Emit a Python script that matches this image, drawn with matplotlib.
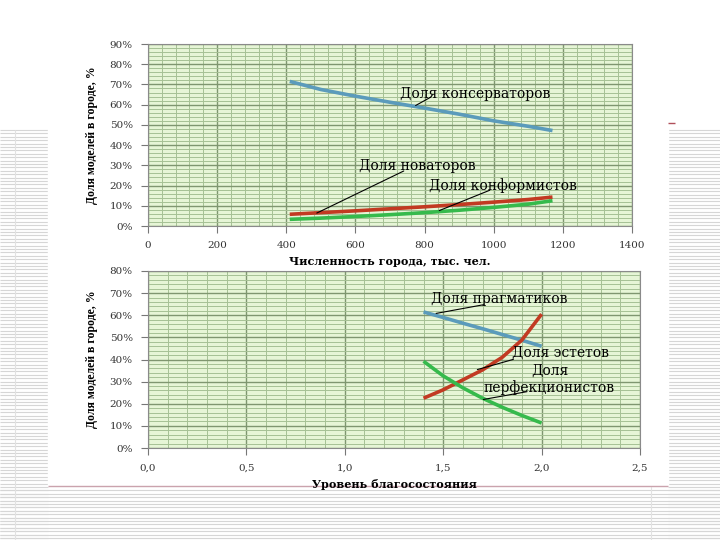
import numpy as np
import matplotlib
matplotlib.use("Agg")
import matplotlib.pyplot as plt
from matplotlib.ticker import MultipleLocator, FuncFormatter

# top chart: city size (thousand people) vs share of models
pop = [410, 500, 600, 700, 800, 900, 1000, 1100, 1170]
conserv = [71.5, 67.5, 64.2, 61.2, 58.3, 55.3, 52.0, 49.3, 47.2]
novat = [5.8, 6.6, 7.5, 8.5, 9.5, 10.6, 11.8, 13.1, 14.3]
conform = [3.3, 3.9, 4.7, 5.6, 6.6, 7.8, 9.2, 10.8, 12.5]

# bottom chart: welfare level vs share of models
wealth = [1.4, 1.5, 1.6, 1.7, 1.8, 1.9, 2.0]
pragm = [61.5, 59.0, 56.4, 53.9, 51.3, 48.7, 46.0]
estet = [22.5, 26.3, 30.8, 35.3, 41.0, 48.8, 60.5]
perf = [39.2, 32.6, 27.2, 22.5, 18.4, 14.7, 11.3]

c_blue = "#5b9bbb"
c_red = "#c23a22"
c_green = "#36ba4c"
bg = "#e6f5d6"
serif = "DejaVu Serif"

fig = plt.figure(figsize=(7.2, 5.4), dpi=100)

# slide background decoration (grey stripes around the pasted picture)
deco = fig.add_axes([0, 0, 1, 1], zorder=-5)
deco.set_xlim(0, 720)
deco.set_ylim(540, 0)
deco.axis("off")
ys = np.arange(130, 540, 3.4)
deco.hlines(ys, 0, 48, color="#d6d6d6", lw=0.8)
deco.hlines(ys, 668, 720, color="#d6d6d6", lw=0.8)
deco.hlines(ys[ys > 489], 0, 720, color="#d6d6d6", lw=0.8)
deco.vlines([15, 651], 130, 540, color="#e2e2e2", lw=0.8)
deco.fill_between([48, 668], 0, 486, color="white", zorder=2)
deco.hlines(486, 48, 668, color="#caa3ad", lw=1.0, zorder=3)
deco.hlines(123, 668, 675, color="#b0505a", lw=1.0, zorder=3)


def style(ax):
    ax.set_facecolor(bg)
    ax.grid(which="major", color="#7f9670", lw=1.0)
    ax.grid(which="minor", color="#a6c194", lw=0.7)
    ax.set_axisbelow(True)
    for s in ax.spines.values():
        s.set_color("#8a8a8a")
    ax.tick_params(which="major", length=5, color="#777777", labelcolor="#333333",
                   labelsize=7.5, pad=6)
    ax.tick_params(which="minor", length=0)
    for lab in ax.get_xticklabels() + ax.get_yticklabels():
        lab.set_family(serif)
    ax.yaxis.set_major_formatter(FuncFormatter(lambda v, p: "%d%%" % round(v)))


def leader(ax, p0, p1):
    ax.annotate("", xy=p1, xytext=p0,
                arrowprops=dict(arrowstyle="-", color="black", lw=0.8))


# ---- top chart
ax1 = fig.add_axes([148 / 720, 1 - 226 / 540, 484 / 720, 182 / 540])
ax1.plot(pop, conserv, color=c_blue, lw=2.6, solid_capstyle="butt")
ax1.plot(pop, novat, color=c_red, lw=2.6, solid_capstyle="butt")
ax1.plot(pop, conform, color=c_green, lw=2.6, solid_capstyle="butt")
ax1.set_xlim(0, 1400)
ax1.set_ylim(0, 90)
ax1.xaxis.set_major_locator(MultipleLocator(200))
ax1.xaxis.set_minor_locator(MultipleLocator(40))
ax1.yaxis.set_major_locator(MultipleLocator(10))
ax1.yaxis.set_minor_locator(MultipleLocator(2))
style(ax1)
ax1.set_xlabel("Численность города, тыс. чел.", family=serif, fontweight="bold",
               fontsize=8, labelpad=4)
ax1.set_ylabel("Доля моделей в городе, %", family="Liberation Serif",
               fontweight="bold", fontsize=8.5, labelpad=8)

ax1.text(729, 65.5, "Доля консерваторов", family=serif, fontsize=10, va="center")
leader(ax1, (824, 64.3), (767, 58.9))
ax1.text(609, 29.5, "Доля новаторов", family=serif, fontsize=10, va="center")
leader(ax1, (747, 27.8), (481, 5.8))
ax1.text(813, 19.9, "Доля конформистов", family=serif, fontsize=10, va="center")
leader(ax1, (996, 18.2), (835, 7.1))

# ---- bottom chart
ax2 = fig.add_axes([148 / 720, 1 - 448 / 540, 492 / 720, 177 / 540])
ax2.plot(wealth, pragm, color=c_blue, lw=2.6, solid_capstyle="butt")
ax2.plot(wealth, estet, color=c_red, lw=2.6, solid_capstyle="butt")
ax2.plot(wealth, perf, color=c_green, lw=2.6, solid_capstyle="butt")
ax2.set_xlim(0, 2.5)
ax2.set_ylim(0, 80)
ax2.xaxis.set_major_locator(MultipleLocator(0.5))
ax2.xaxis.set_minor_locator(MultipleLocator(0.1))
ax2.yaxis.set_major_locator(MultipleLocator(10))
ax2.yaxis.set_minor_locator(MultipleLocator(2))
style(ax2)
ax2.xaxis.set_major_formatter(FuncFormatter(lambda v, p: ("%.1f" % v).replace(".", ",")))
ax2.set_xlabel("Уровень благосостояния", family=serif, fontweight="bold",
               fontsize=8, labelpad=5)
ax2.set_ylabel("Доля моделей в городе, %", family="Liberation Serif",
               fontweight="bold", fontsize=8.5, labelpad=8)

ax2.text(1.44, 67.3, "Доля прагматиков", family=serif, fontsize=10, va="center")
leader(ax2, (1.72, 65.0), (1.45, 60.6))
ax2.text(1.85, 43.1, "Доля эстетов", family=serif, fontsize=10, va="center")
leader(ax2, (1.87, 40.4), (1.66, 35.1))
ax2.text(2.04, 30.8, "Доля\nперфекционистов", family=serif, fontsize=10,
         va="center", ha="center", multialignment="center", linespacing=1.2)
leader(ax2, (1.94, 25.7), (1.69, 21.7))

fig.savefig("out.png", dpi=100)
